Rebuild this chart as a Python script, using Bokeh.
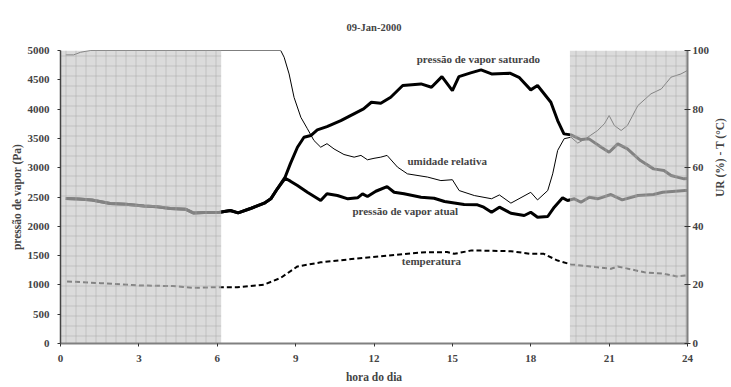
import math
from bokeh.plotting import figure
from bokeh.models import LinearAxis, Range1d, FixedTicker, Label
from bokeh.embed import file_html
from bokeh.resources import INLINE

# ---- data ----
night_hour = [0.2, 0.7, 1.2, 1.9, 2.5, 3.2, 3.7, 4.2, 4.8, 5.1, 5.5, 6.1, 6.5, 6.8, 7.3, 7.8, 8.05, 8.3]
night_pa = [2475, 2465, 2450, 2390, 2375, 2345, 2335, 2305, 2290, 2225, 2235, 2240, 2269, 2230, 2308, 2394, 2469, 2640]

es_day_hour = [8.6, 8.8, 9.07, 9.32, 9.58, 9.83, 10.2, 10.73, 11.1, 11.6, 11.9, 12.26, 12.64, 13.1, 13.8, 14.2,
               14.6, 15.0, 15.25, 15.7, 16.1, 16.5, 17.2, 17.55, 18.0, 18.26, 18.77, 19.03, 19.27, 19.54, 19.92,
               20.23, 20.7, 21.0, 21.33, 21.7, 22.2, 22.7, 23.1, 23.37, 23.87, 24.0]
es_day_pa = [2840, 3070, 3349, 3520, 3549, 3645, 3702, 3804, 3890, 4003, 4117, 4100, 4202, 4402, 4430, 4373,
             4555, 4316, 4555, 4618, 4670, 4600, 4612, 4543, 4328, 4402, 4117, 3804, 3577, 3560, 3480,
             3492, 3349, 3264, 3407, 3322, 3122, 2980, 2951, 2866, 2810, 2815]

ea_day_hour = [8.6, 8.8, 9.07, 9.45, 9.96, 10.2, 10.6, 11.0, 11.37, 11.56, 11.75, 12.07, 12.5, 12.77, 13.15, 13.8,
               14.3, 14.7, 15.45, 15.96, 16.2, 16.5, 16.8, 17.24, 17.75, 18.0, 18.26, 18.65, 18.9, 19.22, 19.41,
               19.67, 19.92, 20.24, 20.56, 21.07, 21.5, 22.1, 22.7, 23.05, 23.9, 24.0]
ea_day_pa = [2820, 2770, 2695, 2581, 2440, 2554, 2525, 2469, 2486, 2554, 2508, 2598, 2678, 2581, 2554, 2496,
             2479, 2423, 2371, 2366, 2326, 2240, 2326, 2223, 2184, 2240, 2155, 2167, 2326, 2486, 2440,
             2469, 2411, 2496, 2469, 2542, 2451, 2525, 2542, 2581, 2610, 2612]

rh_hour = [0.2, 0.5, 0.77, 1.15, 8.43, 8.56, 8.75, 8.94, 9.2, 9.45, 9.7, 9.96, 10.2, 10.47, 10.85, 11.24, 11.5,
           11.75, 12.0, 12.26, 12.5, 12.9, 13.28, 14.05, 14.56, 15.0, 15.26, 15.84, 16.5, 16.8, 17.24, 18.0,
           18.26, 18.65, 18.84, 19.03, 19.28, 19.54, 19.8, 20.1, 20.56, 20.82, 21.0, 21.2, 21.46, 21.7, 22.1,
           22.6, 23.0, 23.37, 23.75, 24.0]
rh_pct = [98.5, 98.5, 99.4, 100, 100, 97.7, 92, 84, 77.2, 73.3, 69.3, 67, 68.2, 66.4, 64.5, 63.6, 64.2,
          62.7, 63.2, 63.6, 64.2, 60.2, 57.9, 56.8, 55.6, 55.9, 52.2, 50.5, 49.4, 50.7, 47.9, 51.6,
          49.0, 52.2, 57.9, 65.9, 69.9, 70.4, 68.4, 69.9, 72.7, 75, 77.8, 74.4, 72.7, 74.4, 81.2,
          85.2, 86.9, 90.9, 92, 93.2]

temp_hour = [0.25, 1.53, 3.07, 4.3, 5.1, 5.87, 6.77, 7.8, 8.43, 9.07, 9.96, 11.24, 12.5, 13.8, 14.8, 15.07,
             15.7, 16.1, 17.24, 18.0, 18.5, 19.03, 19.54, 20.3, 21.07, 21.33, 22.35, 23.1, 23.6, 23.95]
temp_c = [21.2, 20.6, 19.8, 19.6, 19.0, 19.2, 19.2, 20.1, 22.4, 26.3, 27.7, 28.9, 30.0, 31.1, 31.2, 30.6,
          31.7, 31.7, 31.5, 30.6, 30.6, 28.3, 27.0, 26.3, 25.5, 26.3, 24.3, 23.8, 22.9, 23.2]

shade_start = [0, 19.5]
shade_end = [6.15, 24]

hour_ticks = [0, 3, 6, 9, 12, 15, 18, 21, 24]
pa_ticks = list(range(0, 5001, 500))
right_ticks = [0, 20, 40, 60, 80, 100]

es_hour = night_hour + es_day_hour
es_pa = night_pa + es_day_pa
ea_hour = night_hour + ea_day_hour
ea_pa = night_pa + ea_day_pa

FONT = "'Liberation Serif', 'Times New Roman', serif"

p = figure(frame_width=627, frame_height=293, output_backend="svg", toolbar_location=None,
           x_range=Range1d(0, 24), y_range=Range1d(0, 5000),
           min_border_left=60, min_border_right=36, min_border_top=50, min_border_bottom=36,
           title="09-Jan-2000")
p.extra_y_ranges = {"right": Range1d(0, 100)}
p.outline_line_color = None
p.xgrid.visible = False
p.ygrid.visible = False
p.background_fill_color = "white"
p.border_fill_color = "white"

p.title.align = "center"
p.title.text_font = FONT
p.title.text_font_size = "10.5px"
p.title.text_font_style = "bold"
p.title.standoff = 36

# lines
p.line(es_hour, es_pa, line_color="black", line_width=3)
p.line(ea_hour, ea_pa, line_color="black", line_width=3)
p.line(rh_hour, rh_pct, line_color="black", line_width=1, y_range_name="right")
p.line(temp_hour, temp_c, line_color="black", line_width=2, line_dash="5 3", y_range_name="right")

# night shading overlay
p.quad(left=shade_start, right=shade_end, bottom=[0, 0], top=[5000, 5000],
       fill_color="#c8c8c8", fill_alpha=0.65, line_color=None,
       hatch_pattern="+", hatch_scale=10, hatch_weight=1, hatch_color="#a8a8a8", hatch_alpha=0.5)

# axes
def style_axis(ax):
    ax.major_label_text_font = FONT
    ax.major_label_text_font_style = "bold"
    ax.major_label_text_font_size = "11px"
    ax.axis_label_text_font = FONT
    ax.axis_label_text_font_style = "bold"
    ax.axis_label_text_font_size = "11.5px"
    ax.minor_tick_line_color = None
    ax.axis_line_color = "#808080"
    ax.axis_line_width = 2
    ax.major_tick_line_color = "#333333"

xa = p.xaxis[0]
style_axis(xa)
xa.ticker = FixedTicker(ticks=hour_ticks)
xa.axis_label = "hora do dia"
xa.major_tick_in = 0
xa.major_tick_out = 3
xa.major_label_standoff = 8
xa.axis_label_standoff = 6

ya = p.yaxis[0]
style_axis(ya)
ya.ticker = FixedTicker(ticks=pa_ticks)
ya.axis_label = "pressão de vapor (Pa)"
ya.major_tick_in = 0
ya.major_tick_out = 3
ya.major_label_standoff = 8
ya.axis_label_standoff = 2
ya.axis_line_width = 1.5
ya.axis_line_color = "#444444"

ra = LinearAxis(y_range_name="right", ticker=FixedTicker(ticks=right_ticks), axis_label="UR (%) - T (°C)")
style_axis(ra)
ra.major_tick_in = 3
ra.major_tick_out = 3
ra.major_label_standoff = 2
ra.axis_label_standoff = 8
ra.axis_label_orientation = math.pi / 2
p.add_layout(ra, "right")

# series labels
labels = [("pressão de vapor saturado", 16.0, 4862),
          ("umidade relativa", 14.8, 3122),
          ("pressão de vapor atual", 13.2, 2257),
          ("temperatura", 14.2, 1404)]
for txt, lx, ly in labels:
    p.add_layout(Label(x=lx, y=ly, text=txt, text_font=FONT, text_font_style="bold",
                       text_font_size="11px", text_align="center", text_baseline="middle"))

open("out.html", "w").write(file_html(p, INLINE))
